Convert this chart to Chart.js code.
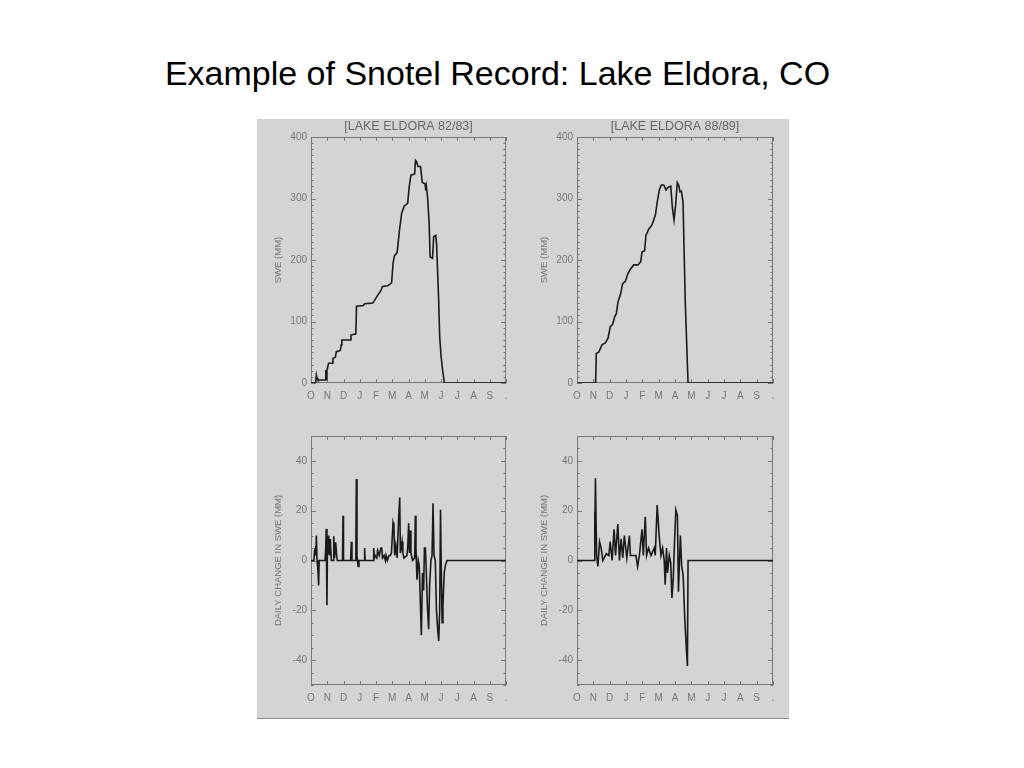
<!DOCTYPE html>
<html>
<head>
<meta charset="utf-8">
<script src="https://cdn.jsdelivr.net/npm/chart.js@4.4.1/dist/chart.umd.min.js"></script>
<style>
  body { margin: 0; background: #fff; width: 1024px; height: 768px; position: relative; overflow: hidden;
         font-family: "Liberation Sans", Arial, sans-serif; }
  #title { position: absolute; left: 0; width: 995px; top: 53px; text-align: center; font-size: 34px;
           line-height: 40px; color: #000; }
  #panel { position: absolute; left: 257px; top: 119px; width: 532px; height: 599px; background: #d4d4d4;
           border-bottom: 1px solid #8a8a8a; }
  .box { position: absolute; width: 266px; height: 290px; }
</style>
</head>
<body>
<div id="title">Example of Snotel Record: Lake Eldora, CO</div>
<div id="panel"></div>
<div class="box" style="left:257px;top:119px"><canvas id="sweA"></canvas></div>
<div class="box" style="left:523px;top:119px"><canvas id="sweB"></canvas></div>
<div class="box" style="left:257px;top:420px"><canvas id="dA"></canvas></div>
<div class="box" style="left:523px;top:420px"><canvas id="dB"></canvas></div>
<script>
// x values are months since 1 Oct (water year)
const monthLabels = ['O', 'N', 'D', 'J', 'F', 'M', 'A', 'M', 'J', 'J', 'A', 'S', '.'];
const sweTicks = [0, 100, 200, 300, 400];
const changeTicks = [-40, -20, 0, 20, 40];

// SWE (mm), Lake Eldora 1982/83
const sweA_month = [0, 0.28, 0.33, 0.37, 0.42, 0.88, 0.91, 0.95, 0.98, 1.08, 1.3, 1.35, 1.5, 1.56, 1.8, 1.86, 1.9,
  2.42, 2.46, 2.76, 2.8, 3.22, 3.3, 3.8, 3.9, 4.04, 4.3, 4.4, 4.72, 4.96, 5.05, 5.14, 5.3, 5.45, 5.58, 5.74, 5.95,
  6.04, 6.15, 6.38, 6.43, 6.5, 6.58, 6.74, 6.85, 7.02, 7.06, 7.1, 7.18, 7.27, 7.33, 7.48, 7.55, 7.68, 7.73, 7.85,
  7.92, 7.96, 8.0, 8.1, 8.21, 12];
const sweA_value = [0, 0, 13, 8, 5, 5, 21, 6, 20, 32, 32, 40, 42, 51, 53, 62, 70,
  70, 78, 80, 125, 126, 129, 130, 134, 140, 150, 157, 158, 163, 195, 207, 212, 250, 276, 288, 292,
  318, 338, 340, 362, 360, 352, 352, 326, 324, 313, 320, 300, 260, 205, 203, 238, 240, 225, 140,
  75, 60, 45, 20, 0, 0];

// SWE (mm), Lake Eldora 1988/89
const sweB_month = [0, 1.14, 1.18, 1.33, 1.53, 1.73, 1.9, 2.04, 2.18, 2.31, 2.41, 2.51, 2.65, 2.8, 2.96, 3.12,
  3.27, 3.47, 3.73, 3.9, 3.98, 4.14, 4.22, 4.39, 4.59, 4.8, 4.9, 5.04, 5.16, 5.31, 5.45, 5.57, 5.74, 5.84, 5.94,
  6.04, 6.14, 6.22, 6.31, 6.39, 6.49, 6.63, 6.8, 12];
const sweB_value = [0, 0, 48, 50, 62, 65, 73, 92, 95, 108, 113, 132, 143, 162, 165, 178,
  185, 192, 192, 197, 213, 215, 240, 250, 257, 273, 292, 314, 322, 322, 314, 318, 320, 285, 265,
  290, 326, 322, 311, 312, 295, 130, 0, 0];

// daily change in SWE (mm), 1982/83
const dA_month = [0, 0.18, 0.22, 0.27, 0.3, 0.33, 0.37, 0.42, 0.47, 0.5, 0.86, 0.9, 0.94, 0.98, 1.02, 1.06, 1.09,
  1.13, 1.19, 1.25, 1.38, 1.4, 1.45, 1.52, 1.58, 1.62, 1.94, 1.97, 2.0, 2.44, 2.48, 2.52, 2.76, 2.79, 2.83, 2.9,
  2.95, 3.27, 3.3, 3.33, 3.83, 3.86, 3.9, 3.95, 4.05, 4.1, 4.2, 4.3, 4.35, 4.4, 4.5, 4.58, 4.62, 4.7, 4.8, 4.88,
  4.95, 5.05, 5.1, 5.15, 5.22, 5.3, 5.38, 5.46, 5.5, 5.6, 5.65, 5.72, 5.9, 5.95, 6.01, 6.06, 6.11, 6.15, 6.25,
  6.38, 6.42, 6.46, 6.52, 6.6, 6.66, 6.79, 6.86, 6.93, 6.98, 7.04, 7.1, 7.16, 7.24, 7.3, 7.38, 7.45, 7.51, 7.57,
  7.65, 7.72, 7.8, 7.86, 7.92, 7.97, 8.02, 8.07, 8.12, 8.16, 8.2, 8.27, 8.37, 12];
const dA_value = [0, 0, 4, 5, 2, 10, 0, -3, -10, 0, 0, 4, 12.7, -18, 10, 3, 10,
  2, 8.6, 0, 0, 9.7, 1, 7.3, 2, 0, 0, 18, 0, 0, 7.5, 0, 0, 32.7, 2, -2.4,
  0, 0, 5, 0, 0, 5, 1, 2, 1, 4, 2, 5, 5, 1, 2, 0, 2, 0, 2, 2,
  3, 15.3, 14, 2, 6, 1, 15, 25.3, 3, 7.6, 3, 1, 2, 5, 15, 3, 12, 3, 0,
  1, 18, 5, -7.7, 0, -2, -30, -5, -12, 5, 5, -5, -18, -27.6, -10, 0, 2, 23, 2,
  0, -20, -28, -32.3, -20, 20.4, -5, -25, -18, -11, -5, -2, 0, 0];

// daily change in SWE (mm), 1988/89
const dB_month = [0, 1.05, 1.08, 1.1, 1.13, 1.2, 1.28, 1.38, 1.48, 1.58, 1.79, 1.95, 2.03, 2.15, 2.27, 2.36, 2.5,
  2.6, 2.7, 2.8, 2.9, 3.05, 3.21, 3.27, 3.41, 3.61, 3.71, 3.82, 3.98, 4.06, 4.18, 4.26, 4.38, 4.53, 4.73, 4.79,
  4.91, 5.03, 5.14, 5.24, 5.34, 5.4, 5.48, 5.54, 5.65, 5.74, 5.81, 5.89, 5.95, 6.05, 6.15, 6.21, 6.33, 6.41, 6.5,
  6.6, 6.7, 6.76, 6.8, 12];
const dB_value = [0, 0, 19.6, 10, 33, 2, -2.4, 7.6, 5, 0, 2.7, 2, 7.6, 0, 12.5, 2, 14.6,
  0, 8.7, 1, 10, 1, 10, 2, 2, 2, -2.4, 2, 12.5, 2, 17.6, 2, 5, 2, 5, 2,
  22.3, 10, 2, 5, 0, -9.7, 5, -5, 2, -1, -15, -7.7, 3.6, 20.3, 18, -12.5, 10, -2.4, -6,
  -23.7, -35.7, -42.4, 0, 0];

const AXIS_GRAY = '#767676';
const LABEL_FONT = { family: '"Liberation Sans", Arial, sans-serif', size: 10 };
const TITLE_FONT = { family: '"Liberation Sans", Arial, sans-serif', size: 9.5 };

// box round the plot with inward ticks on all four sides, plus the bracketed panel title
const framePlugin = {
  id: 'frame',
  beforeDatasetsDraw(chart, args, opts) {
    const { ctx, chartArea: a, scales: { x, y } } = chart;
    ctx.save();
    ctx.strokeStyle = AXIS_GRAY;
    ctx.lineWidth = 1;
    ctx.strokeRect(Math.round(a.left) + 0.5, Math.round(a.top) + 0.5,
      Math.round(a.width) - 1, Math.round(a.height) - 1);
    ctx.beginPath();
    x.ticks.forEach(t => {
      const px = Math.round(x.getPixelForValue(t.value)) + 0.5;
      ctx.moveTo(px, a.bottom); ctx.lineTo(px, a.bottom - 4);
      ctx.moveTo(px, a.top); ctx.lineTo(px, a.top + 4);
    });
    for (let v = y.min; v <= y.max; v += opts.minor) {
      const len = opts.major.includes(v) ? 5 : 2.5;
      const py = Math.round(y.getPixelForValue(v)) + 0.5;
      ctx.moveTo(a.left, py); ctx.lineTo(a.left + len, py);
      ctx.moveTo(a.right, py); ctx.lineTo(a.right - len, py);
    }
    ctx.stroke();
    if (opts.title) {
      ctx.fillStyle = '#666';
      ctx.font = '12.5px "Liberation Sans", Arial, sans-serif';
      ctx.textAlign = 'center';
      ctx.textBaseline = 'middle';
      ctx.fillText(opts.title, (a.left + a.right) / 2, a.top - 10);
    }
    ctx.restore();
  }
};

function makeChart(id, months, values, cfg) {
  const points = months.map((m, i) => ({ x: m, y: values[i] }));
  return new Chart(document.getElementById(id), {
    type: 'line',
    data: {
      datasets: [{
        data: points,
        borderColor: '#1a1a1a',
        borderWidth: 1.6,
        pointRadius: 0,
        tension: 0,
        fill: false
      }]
    },
    options: {
      responsive: true,
      maintainAspectRatio: false,
      animation: false,
      layout: { padding: { top: cfg.padTop, right: cfg.padRight, left: 0, bottom: 0 } },
      plugins: {
        legend: { display: false },
        tooltip: { enabled: false },
        frame: { title: cfg.title, minor: cfg.minor, major: cfg.ticks }
      },
      scales: {
        x: {
          type: 'linear',
          min: 0,
          max: 12,
          grid: { display: false, drawTicks: false },
          border: { display: false },
          afterBuildTicks: scale => { scale.ticks = monthLabels.map((_, i) => ({ value: i })); },
          afterFit: scale => { scale.height = cfg.xHeight; },
          ticks: {
            autoSkip: false,
            maxRotation: 0,
            padding: 7,
            color: AXIS_GRAY,
            font: LABEL_FONT,
            callback: v => monthLabels[v]
          }
        },
        y: {
          min: cfg.min,
          max: cfg.max,
          grid: { display: false, drawTicks: false },
          border: { display: false },
          afterBuildTicks: scale => { scale.ticks = cfg.ticks.map(v => ({ value: v })); },
          afterFit: scale => { scale.width = 54; },
          ticks: { padding: 4, color: AXIS_GRAY, font: LABEL_FONT },
          title: {
            display: true,
            text: cfg.yTitle,
            color: AXIS_GRAY,
            font: TITLE_FONT,
            padding: { top: 16, bottom: 0 }
          }
        }
      }
    },
    plugins: [framePlugin]
  });
}

const sweCfg = { min: 0, max: 400, ticks: sweTicks, minor: 10, yTitle: 'SWE (MM)', padTop: 18, xHeight: 26 };
const dCfg = { min: -50, max: 50, ticks: changeTicks, minor: 5, yTitle: 'DAILY CHANGE IN SWE (MM)', padTop: 16, xHeight: 25 };

makeChart('sweA', sweA_month, sweA_value, { ...sweCfg, title: '[LAKE ELDORA 82/83]', padRight: 17 });
makeChart('sweB', sweB_month, sweB_value, { ...sweCfg, title: '[LAKE ELDORA 88/89]', padRight: 16 });
makeChart('dA', dA_month, dA_value, { ...dCfg, title: '', padRight: 17 });
makeChart('dB', dB_month, dB_value, { ...dCfg, title: '', padRight: 16 });
</script>
</body>
</html>
